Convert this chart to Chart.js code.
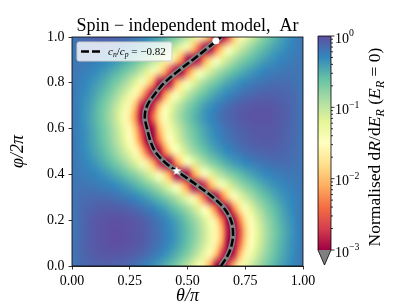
<!DOCTYPE html>
<html>
<head>
<meta charset="utf-8">
<script src="https://cdn.jsdelivr.net/npm/chart.js@4.4.1/dist/chart.umd.min.js"></script>
<style>
  html, body { margin: 0; padding: 0; background: #fff; }
  #wrap { position: relative; width: 407px; height: 305px; }
  #mainChart { position: absolute; left: 0; top: 0; }
  #cbarChart { position: absolute; left: 300px; top: 0; }
</style>
</head>
<body>
<div id="wrap">
  <canvas id="mainChart" width="407" height="305"></canvas>
  <canvas id="cbarChart" width="107" height="305"></canvas>
</div>
<script>
// ---- data ----
// heat map grid: columns are theta/pi, rows are phi/2pi (row 0 = bottom)
const gridTheta = [0, 0.025, 0.05, 0.075, 0.1, 0.125, 0.15, 0.175, 0.2, 0.225, 0.25, 0.275, 0.3, 0.325, 0.35, 0.375, 0.4, 0.425, 0.45, 0.475, 0.5,
  0.525, 0.55, 0.575, 0.6, 0.625, 0.65, 0.675, 0.7, 0.725, 0.75, 0.775, 0.8, 0.825, 0.85, 0.875, 0.9, 0.925, 0.95, 0.975, 1];
const gridPhi = [0, 0.05, 0.1, 0.15, 0.2, 0.25, 0.3, 0.35, 0.4, 0.45, 0.5, 0.55, 0.6, 0.65, 0.7, 0.75, 0.8, 0.85, 0.9, 0.95, 1];
// log10 of normalised dR/dE_R, one row per gridPhi value
const rateLog10 = [
  [-0.21,-0.17,-0.14,-0.12,-0.10,-0.10,-0.09,-0.10,-0.11,-0.13,-0.15,-0.19,-0.23,-0.28,-0.34,-0.41,-0.49,-0.58,-0.69,-0.83,-0.98,-1.18,-1.43,-1.74,-2.21,-3.09,-3.50,-2.65,-2.00,-1.59,-1.32,-1.09,-0.92,-0.77,-0.65,-0.54,-0.45,-0.38,-0.31,-0.25,-0.21],
  [-0.21,-0.16,-0.12,-0.09,-0.07,-0.05,-0.04,-0.04,-0.04,-0.05,-0.07,-0.09,-0.12,-0.16,-0.21,-0.26,-0.33,-0.41,-0.50,-0.61,-0.73,-0.89,-1.07,-1.30,-1.59,-2.03,-2.75,-3.50,-2.85,-2.08,-1.63,-1.33,-1.09,-0.90,-0.75,-0.62,-0.51,-0.42,-0.34,-0.27,-0.21],
  [-0.21,-0.16,-0.11,-0.08,-0.05,-0.03,-0.01,0.00,0.00,-0.01,-0.02,-0.04,-0.06,-0.10,-0.14,-0.19,-0.25,-0.32,-0.40,-0.50,-0.61,-0.75,-0.91,-1.10,-1.35,-1.68,-2.18,-3.13,-3.50,-2.49,-1.86,-1.47,-1.20,-0.99,-0.81,-0.67,-0.54,-0.44,-0.35,-0.28,-0.21],
  [-0.21,-0.17,-0.12,-0.08,-0.05,-0.03,-0.01,0.00,0.00,0.00,-0.02,-0.03,-0.06,-0.09,-0.13,-0.18,-0.24,-0.31,-0.39,-0.48,-0.59,-0.72,-0.88,-1.06,-1.31,-1.63,-2.07,-2.89,-3.50,-2.65,-1.95,-1.54,-1.25,-1.02,-0.84,-0.69,-0.57,-0.46,-0.37,-0.29,-0.21],
  [-0.21,-0.16,-0.12,-0.08,-0.05,-0.03,-0.02,-0.01,-0.01,-0.02,-0.03,-0.05,-0.08,-0.11,-0.16,-0.21,-0.27,-0.35,-0.43,-0.53,-0.65,-0.79,-0.95,-1.16,-1.41,-1.77,-2.33,-3.50,-3.55,-2.34,-1.79,-1.43,-1.16,-0.96,-0.79,-0.65,-0.53,-0.43,-0.35,-0.27,-0.21],
  [-0.21,-0.17,-0.13,-0.11,-0.09,-0.07,-0.07,-0.07,-0.08,-0.09,-0.11,-0.14,-0.18,-0.22,-0.27,-0.34,-0.41,-0.50,-0.60,-0.72,-0.86,-1.03,-1.24,-1.50,-1.88,-2.46,-3.50,-3.39,-2.32,-1.79,-1.45,-1.20,-0.99,-0.83,-0.69,-0.58,-0.48,-0.39,-0.32,-0.26,-0.21],
  [-0.21,-0.18,-0.16,-0.15,-0.14,-0.15,-0.15,-0.17,-0.19,-0.22,-0.25,-0.30,-0.35,-0.41,-0.49,-0.57,-0.68,-0.80,-0.94,-1.11,-1.32,-1.59,-1.96,-2.54,-3.50,-3.46,-2.39,-1.87,-1.53,-1.27,-1.07,-0.91,-0.77,-0.65,-0.56,-0.47,-0.40,-0.34,-0.29,-0.25,-0.21],
  [-0.21,-0.20,-0.20,-0.21,-0.22,-0.24,-0.26,-0.29,-0.33,-0.38,-0.44,-0.51,-0.59,-0.69,-0.80,-0.93,-1.09,-1.28,-1.53,-1.85,-2.33,-3.20,-3.50,-2.76,-2.11,-1.71,-1.43,-1.20,-1.03,-0.88,-0.75,-0.65,-0.56,-0.48,-0.42,-0.36,-0.32,-0.28,-0.25,-0.23,-0.21],
  [-0.21,-0.22,-0.24,-0.26,-0.29,-0.33,-0.38,-0.44,-0.50,-0.58,-0.68,-0.78,-0.91,-1.06,-1.25,-1.48,-1.79,-2.22,-2.97,-3.50,-2.97,-2.22,-1.79,-1.48,-1.25,-1.06,-0.91,-0.78,-0.68,-0.58,-0.50,-0.44,-0.38,-0.33,-0.29,-0.26,-0.24,-0.22,-0.21,-0.21,-0.21],
  [-0.21,-0.24,-0.28,-0.32,-0.38,-0.45,-0.52,-0.61,-0.72,-0.84,-0.99,-1.16,-1.39,-1.67,-2.07,-2.72,-3.50,-3.16,-2.29,-1.82,-1.49,-1.24,-1.05,-0.90,-0.76,-0.65,-0.55,-0.47,-0.40,-0.35,-0.30,-0.26,-0.22,-0.20,-0.18,-0.17,-0.16,-0.16,-0.17,-0.19,-0.21],
  [-0.21,-0.25,-0.31,-0.37,-0.45,-0.53,-0.63,-0.75,-0.90,-1.06,-1.27,-1.55,-1.91,-2.50,-3.50,-3.41,-2.35,-1.83,-1.49,-1.23,-1.03,-0.86,-0.73,-0.61,-0.51,-0.43,-0.36,-0.30,-0.25,-0.20,-0.17,-0.14,-0.12,-0.11,-0.10,-0.10,-0.11,-0.12,-0.15,-0.17,-0.21],
  [-0.21,-0.26,-0.32,-0.40,-0.48,-0.58,-0.70,-0.84,-1.00,-1.21,-1.48,-1.83,-2.38,-3.50,-3.50,-2.39,-1.84,-1.48,-1.22,-1.01,-0.84,-0.70,-0.58,-0.48,-0.40,-0.33,-0.26,-0.21,-0.17,-0.13,-0.11,-0.08,-0.07,-0.06,-0.06,-0.07,-0.08,-0.11,-0.13,-0.17,-0.21],
  [-0.21,-0.27,-0.33,-0.41,-0.50,-0.61,-0.73,-0.88,-1.06,-1.29,-1.58,-1.99,-2.69,-3.50,-2.93,-2.11,-1.67,-1.35,-1.11,-0.92,-0.76,-0.63,-0.52,-0.43,-0.35,-0.28,-0.22,-0.17,-0.13,-0.10,-0.08,-0.06,-0.05,-0.04,-0.05,-0.06,-0.07,-0.10,-0.13,-0.16,-0.21],
  [-0.21,-0.27,-0.34,-0.43,-0.53,-0.64,-0.78,-0.94,-1.14,-1.40,-1.74,-2.27,-3.33,-3.50,-2.41,-1.83,-1.46,-1.19,-0.98,-0.81,-0.67,-0.55,-0.45,-0.36,-0.29,-0.22,-0.17,-0.12,-0.09,-0.06,-0.04,-0.02,-0.02,-0.02,-0.02,-0.04,-0.06,-0.08,-0.12,-0.16,-0.21],
  [-0.21,-0.27,-0.34,-0.41,-0.51,-0.62,-0.74,-0.90,-1.08,-1.31,-1.62,-2.05,-2.80,-3.50,-2.80,-2.05,-1.62,-1.31,-1.08,-0.90,-0.74,-0.62,-0.51,-0.41,-0.34,-0.27,-0.21,-0.16,-0.12,-0.09,-0.07,-0.05,-0.04,-0.04,-0.04,-0.05,-0.07,-0.09,-0.12,-0.16,-0.21],
  [-0.21,-0.26,-0.31,-0.37,-0.45,-0.54,-0.64,-0.76,-0.91,-1.08,-1.29,-1.57,-1.95,-2.57,-3.50,-3.26,-2.29,-1.79,-1.46,-1.20,-1.01,-0.85,-0.71,-0.60,-0.50,-0.42,-0.35,-0.29,-0.24,-0.20,-0.16,-0.14,-0.12,-0.10,-0.10,-0.10,-0.11,-0.12,-0.14,-0.17,-0.21],
  [-0.21,-0.24,-0.28,-0.33,-0.39,-0.45,-0.53,-0.63,-0.73,-0.86,-1.01,-1.20,-1.43,-1.74,-2.17,-2.92,-3.50,-2.92,-2.17,-1.74,-1.43,-1.20,-1.01,-0.86,-0.73,-0.63,-0.53,-0.45,-0.39,-0.33,-0.28,-0.24,-0.21,-0.19,-0.17,-0.16,-0.16,-0.16,-0.17,-0.19,-0.21],
  [-0.21,-0.22,-0.25,-0.28,-0.31,-0.36,-0.41,-0.48,-0.55,-0.64,-0.74,-0.86,-1.01,-1.18,-1.40,-1.68,-2.05,-2.67,-3.50,-3.36,-2.39,-1.89,-1.56,-1.31,-1.11,-0.95,-0.82,-0.70,-0.60,-0.52,-0.45,-0.39,-0.34,-0.30,-0.26,-0.24,-0.22,-0.21,-0.20,-0.20,-0.21],
  [-0.21,-0.21,-0.21,-0.22,-0.24,-0.27,-0.30,-0.34,-0.39,-0.45,-0.51,-0.59,-0.69,-0.80,-0.93,-1.08,-1.27,-1.51,-1.83,-2.28,-3.10,-3.50,-2.86,-2.16,-1.75,-1.46,-1.23,-1.05,-0.90,-0.77,-0.67,-0.58,-0.50,-0.43,-0.38,-0.33,-0.29,-0.26,-0.24,-0.22,-0.21],
  [-0.21,-0.19,-0.18,-0.17,-0.17,-0.18,-0.19,-0.22,-0.24,-0.28,-0.32,-0.38,-0.44,-0.52,-0.60,-0.70,-0.82,-0.97,-1.13,-1.34,-1.62,-1.98,-2.57,-3.50,-3.48,-2.42,-1.90,-1.56,-1.30,-1.10,-0.93,-0.80,-0.68,-0.58,-0.50,-0.43,-0.37,-0.32,-0.27,-0.24,-0.21],
  [-0.21,-0.17,-0.14,-0.12,-0.10,-0.10,-0.09,-0.10,-0.11,-0.13,-0.15,-0.19,-0.23,-0.28,-0.34,-0.41,-0.49,-0.58,-0.69,-0.83,-0.98,-1.18,-1.43,-1.74,-2.21,-3.09,-3.50,-2.65,-2.00,-1.59,-1.32,-1.09,-0.92,-0.77,-0.65,-0.54,-0.45,-0.38,-0.31,-0.25,-0.21]
];
// zero-rate line c_n/c_p = -0.82
const curvePhi = [0, 0.05, 0.1, 0.15, 0.2, 0.25, 0.3, 0.35, 0.4, 0.45, 0.5, 0.55, 0.6, 0.65, 0.7, 0.75, 0.8, 0.85, 0.9, 0.95, 1];
const curveTheta = [0.645, 0.676, 0.693, 0.697, 0.688, 0.660, 0.610, 0.545, 0.475, 0.405, 0.360, 0.338, 0.325, 0.315, 0.325, 0.358, 0.400, 0.458, 0.522, 0.585, 0.645];
const ratioValue = '\u22120.82';
// white circle and white star
const markerTheta = [0.623, 0.453];
const markerPhi = [0.984, 0.415];
// ticks
const xTicks = [0, 0.25, 0.5, 0.75, 1];
const xTickLabels = ['0.00', '0.25', '0.50', '0.75', '1.00'];
const yTicks = [0, 0.2, 0.4, 0.6, 0.8, 1];
const yTickLabels = ['0.0', '0.2', '0.4', '0.6', '0.8', '1.0'];
const cbarTicks = [1, 0.1, 0.01, 0.001];
const cbarTickExp = ['0', '\u22121', '\u22122', '\u22123'];

// ---- styling ----
const SERIF = "'Liberation Serif', 'Times New Roman', serif";
const LOG_MIN = -3, LOG_MAX = 0;
const spectral = ['#9e0142', '#d53e4f', '#f46d43', '#fdae61', '#fee08b', '#ffffbf',
  '#e6f598', '#abdda4', '#66c2a5', '#3288bd', '#5e4fa2'];
const spectralRgb = spectral.map(h => [1, 3, 5].map(i => parseInt(h.slice(i, i + 2), 16)));

Chart.defaults.font.family = SERIF;
Chart.defaults.color = '#000';

function colorFor(v) {
  let t = (v - LOG_MIN) / (LOG_MAX - LOG_MIN);
  t = Math.min(1, Math.max(0, t));
  const p = t * (spectral.length - 1);
  const i = Math.min(spectral.length - 2, Math.floor(p));
  const f = p - i;
  const a = spectralRgb[i], b = spectralRgb[i + 1];
  return a.map((c, k) => Math.round(c + (b[k] - c) * f));
}

// text with italic / sub / sup pieces
function drawRich(ctx, parts, x, y, size, align) {
  const fonts = parts.map(([, k]) => {
    const s = (k === 'sub' || k === 'sup') ? size * 0.7 : size;
    return ((k === 'i' || k === 'sub') ? 'italic ' : '') + s + 'px ' + SERIF;
  });
  let total = 0;
  parts.forEach(([t], i) => { ctx.font = fonts[i]; total += ctx.measureText(t).width; });
  let cx = align === 'center' ? x - total / 2 : x;
  ctx.textAlign = 'left';
  parts.forEach(([t, k], i) => {
    ctx.font = fonts[i];
    const dy = k === 'sub' ? size * 0.22 : (k === 'sup' ? -size * 0.45 : 0);
    ctx.fillText(t, cx, y + dy);
    cx += ctx.measureText(t).width;
  });
}

function makeStar(r) {
  const c = document.createElement('canvas');
  const s = Math.ceil(r * 2) + 2;
  c.width = c.height = s;
  const g = c.getContext('2d');
  g.fillStyle = '#ffffff';
  g.beginPath();
  for (let k = 0; k < 10; k++) {
    const rad = k % 2 ? r * 0.42 : r;
    const ang = -Math.PI / 2 + k * Math.PI / 5;
    g.lineTo(s / 2 + rad * Math.cos(ang), s / 2 + rad * Math.sin(ang));
  }
  g.closePath();
  g.fill();
  return c;
}

// draws the colour map cells under the datasets
const heatmapPlugin = {
  id: 'heatmap',
  beforeDatasetsDraw(chart) {
    const {ctx, chartArea: a, scales: {x, y}} = chart;
    const nx = gridTheta.length, ny = gridPhi.length;
    const img = document.createElement('canvas');
    img.width = nx; img.height = ny;
    const ictx = img.getContext('2d');
    const im = ictx.createImageData(nx, ny);
    for (let j = 0; j < ny; j++) {
      for (let i = 0; i < nx; i++) {
        const rgb = colorFor(rateLog10[j][i]);
        const k = ((ny - 1 - j) * nx + i) * 4;
        im.data[k] = rgb[0]; im.data[k + 1] = rgb[1]; im.data[k + 2] = rgb[2]; im.data[k + 3] = 255;
      }
    }
    ictx.putImageData(im, 0, 0);
    const hx = (gridTheta[1] - gridTheta[0]) / 2, hy = (gridPhi[1] - gridPhi[0]) / 2;
    const x0 = x.getPixelForValue(gridTheta[0] - hx), x1 = x.getPixelForValue(gridTheta[nx - 1] + hx);
    const y0 = y.getPixelForValue(gridPhi[ny - 1] + hy), y1 = y.getPixelForValue(gridPhi[0] - hy);
    ctx.save();
    ctx.beginPath();
    ctx.rect(a.left, a.top, a.width, a.height);
    ctx.clip();
    ctx.imageSmoothingEnabled = true;
    ctx.imageSmoothingQuality = 'high';
    ctx.drawImage(img, x0, y0, x1 - x0, y1 - y0);
    ctx.restore();
  }
};

// axes frame + inset legend
const frameLegendPlugin = {
  id: 'frameLegend',
  afterDatasetsDraw(chart) {
    const {ctx, chartArea: a} = chart;
    ctx.save();
    ctx.strokeStyle = '#000';
    ctx.lineWidth = 0.8;
    ctx.strokeRect(a.left, a.top, a.width, a.height);

    const bx = a.left + 5, by = a.top + 5, bw = 95, bh = 19;
    ctx.beginPath();
    ctx.roundRect(bx, by, bw, bh, 2);
    ctx.fillStyle = 'rgba(255,255,255,0.8)';
    ctx.fill();
    ctx.strokeStyle = '#cccccc';
    ctx.lineWidth = 1;
    ctx.stroke();

    ctx.beginPath();
    ctx.moveTo(bx + 4, by + bh / 2);
    ctx.lineTo(bx + 24, by + bh / 2);
    ctx.setLineDash([8, 3]);
    ctx.strokeStyle = '#000';
    ctx.lineWidth = 2.5;
    ctx.stroke();
    ctx.setLineDash([]);

    ctx.fillStyle = '#000';
    ctx.textBaseline = 'alphabetic';
    drawRich(ctx, [['c', 'i'], ['n', 'sub'], ['/', 'r'], ['c', 'i'], ['p', 'sub'], [' = ' + ratioValue, 'r']],
      bx + 31, by + 13, 11, 'left');
    ctx.restore();
  }
};

const curvePoints = curvePhi.map((p, i) => ({x: curveTheta[i], y: p}));

new Chart(document.getElementById('mainChart'), {
  type: 'scatter',
  data: {
    datasets: [
      { label: 'circle', data: [{x: markerTheta[0], y: markerPhi[0]}], pointRadius: 3.5,
        pointBackgroundColor: '#ffffff', pointBorderColor: '#ffffff', pointBorderWidth: 0, clip: false, order: 0 },
      { label: 'star', data: [{x: markerTheta[1], y: markerPhi[1]}], pointStyle: makeStar(5), pointRadius: 5,
        clip: false, order: 0 },
      { label: 'cn/cp', data: curvePoints, showLine: true, pointRadius: 0, borderColor: '#000000',
        borderWidth: 2.5, borderDash: [8, 3], tension: 0.35, order: 1 },
      { label: 'zero band', data: curvePoints, showLine: true, pointRadius: 0, borderColor: '#808080',
        borderWidth: 5.5, tension: 0.35, order: 2 }
    ]
  },
  options: {
    responsive: false,
    animation: false,
    events: [],
    layout: { padding: { top: 0, right: 104, bottom: 0, left: 0 } },
    plugins: {
      legend: { display: false },
      tooltip: { enabled: false },
      title: {
        display: true, fullSize: false,
        text: 'Spin \u2212 independent model,  Ar',
        font: { size: 18, weight: 'normal', lineHeight: 1.2 },
        padding: { top: 15.4, bottom: 0 },
        color: '#000'
      }
    },
    scales: {
      x: {
        type: 'linear', min: 0, max: 1,
        afterBuildTicks: s => { s.ticks = xTicks.map(v => ({value: v})); },
        afterFit: s => { s.height = 39; },
        ticks: { callback: (v, i) => xTickLabels[i], font: { size: 14 }, padding: 3, maxRotation: 0, autoSkip: false, color: '#000' },
        grid: { drawOnChartArea: false, drawTicks: true, tickLength: 3.5, tickColor: '#000', tickWidth: 0.8 },
        border: { display: true, color: '#000', width: 0.8 },
        title: { display: true, text: '\u03b8/\u03c0', font: { size: 18, style: 'italic' }, padding: { top: 0, bottom: -2 }, color: '#000' }
      },
      y: {
        type: 'linear', min: 0, max: 1,
        afterBuildTicks: s => { s.ticks = yTicks.map(v => ({value: v})); },
        afterFit: s => { s.width = 72; },
        ticks: { callback: (v, i) => yTickLabels[i], font: { size: 14 }, padding: 4, autoSkip: false, color: '#000' },
        grid: { drawOnChartArea: false, drawTicks: true, tickLength: 3.5, tickColor: '#000', tickWidth: 0.8 },
        border: { display: true, color: '#000', width: 0.8 },
        title: { display: true, text: '\u03c6/2\u03c0', font: { size: 18, style: 'italic' }, padding: { top: 7, bottom: 0 }, color: '#000' }
      }
    }
  },
  plugins: [heatmapPlugin, frameLegendPlugin]
});

// colour bar: gradient, under-triangle, log ticks and label on its own log scale
const cbarPlugin = {
  id: 'cbar',
  afterDraw(chart) {
    const {ctx, chartArea: a, scales: {y}} = chart;
    const yHi = y.getPixelForValue(cbarTicks[0]);
    const yLo = y.getPixelForValue(cbarTicks[cbarTicks.length - 1]);
    const cx = (a.left + a.right) / 2;
    const ext = 15;
    ctx.save();
    const grad = ctx.createLinearGradient(0, yLo, 0, yHi);
    spectral.forEach((c, i) => grad.addColorStop(i / (spectral.length - 1), c));
    ctx.fillStyle = grad;
    ctx.fillRect(a.left, yHi, a.right - a.left, yLo - yHi);

    ctx.beginPath();
    ctx.moveTo(a.left, yLo); ctx.lineTo(a.right, yLo); ctx.lineTo(cx, yLo + ext); ctx.closePath();
    ctx.fillStyle = '#808080';
    ctx.fill();

    ctx.beginPath();
    ctx.moveTo(a.left, yHi); ctx.lineTo(a.right, yHi); ctx.lineTo(a.right, yLo);
    ctx.lineTo(cx, yLo + ext); ctx.lineTo(a.left, yLo); ctx.closePath();
    ctx.strokeStyle = '#000';
    ctx.lineWidth = 0.8;
    ctx.stroke();

    // major and minor ticks
    ctx.beginPath();
    cbarTicks.forEach(v => {
      const p = y.getPixelForValue(v);
      ctx.moveTo(a.right, p); ctx.lineTo(a.right + 3.5, p);
    });
    for (let d = 1; d < cbarTicks.length; d++) {
      for (let m = 2; m <= 9; m++) {
        const p = y.getPixelForValue(m * cbarTicks[d]);
        ctx.moveTo(a.right, p); ctx.lineTo(a.right + 2, p);
      }
    }
    ctx.stroke();

    ctx.fillStyle = '#000';
    ctx.textBaseline = 'alphabetic';
    cbarTicks.forEach((v, i) => {
      const p = y.getPixelForValue(v);
      drawRich(ctx, [['10', 'r'], [cbarTickExp[i], 'sup']], a.right + 4, p + 6.5, 14, 'left');
    });

    ctx.translate(a.right + 49, (yHi + yLo) / 2 + 4);
    ctx.rotate(-Math.PI / 2);
    drawRich(ctx, [['Normalised d', 'r'], ['R', 'i'], ['/d', 'r'], ['E', 'i'], ['R', 'sub'],
      [' (', 'r'], ['E', 'i'], ['R', 'sub'], [' = 0)', 'r']], 0, 0, 17.5, 'center');
    ctx.restore();
  }
};

new Chart(document.getElementById('cbarChart'), {
  type: 'scatter',
  data: { datasets: [] },
  options: {
    responsive: false,
    animation: false,
    events: [],
    layout: { padding: { left: 18, top: 36, bottom: 55, right: 0 } },
    plugins: { legend: { display: false }, tooltip: { enabled: false } },
    scales: {
      x: { display: false, min: 0, max: 1 },
      y: {
        type: 'logarithmic', position: 'right', min: 0.001, max: 1,
        ticks: { display: false },
        grid: { display: false },
        border: { display: false },
        afterFit: s => { s.width = 76; }
      }
    }
  },
  plugins: [cbarPlugin]
});
</script>
</body>
</html>
